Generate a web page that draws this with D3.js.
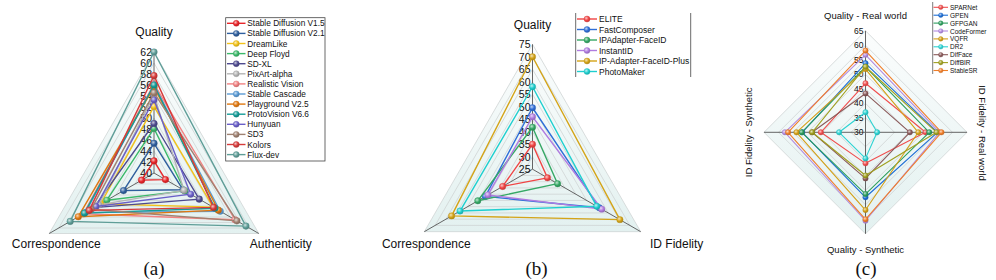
<!DOCTYPE html>
<html><head><meta charset="utf-8">
<script src="https://cdn.jsdelivr.net/npm/d3@7/dist/d3.min.js"></script>
<style>body{margin:0;background:#fff}svg{display:block}text{font-family:"Liberation Sans",Arial,sans-serif;fill:#111}</style>
</head><body><svg id="chart" width="996" height="280"></svg>
<script>
// ---------- Panel (a) ----------
const axesA = ["Quality", "Authenticity", "Correspondence"];
const modelsA = ["Stable Diffusion V1.5","Stable Diffusion V2.1","DreamLike","Deep Floyd","SD-XL","PixArt-alpha","Realistic Vision","Stable Cascade","Playground V2.5","ProtoVision V6.6","Hunyuan","SD3","Kolors","Flux-dev"];
const qualityA        = [42.2, 45.4, 52.1, 48.1, 49.0, 54.2, 56.2, 56.0, 55.6, 56.0, 53.3, 54.6, 57.7, 62.0];
const authenticityA   = [42.4, 46.1, 52.4, 46.5, 49.5, 46.3, 57.0, 53.9, 53.5, 52.8, 47.7, 57.4, 52.5, 59.3];
const correspondenceA = [42.6, 46.4, 51.2, 49.9, 52.6, 51.6, 54.8, 54.4, 55.9, 54.6, 52.2, 53.2, 53.6, 57.6];
const ticksA = [40, 42, 44, 46, 48, 50, 52, 54, 56, 58, 60, 62];
const colorsA = ["#e8262a","#2f5f9e","#f2c21a","#3cb96a","#4e4a8f","#b4b4b4","#f28282","#5b9bd5","#e07810","#169c98","#6a5fc8","#a08272","#d63b3b","#5f9e98"];

// ---------- Panel (b) ----------
const axesB = ["Quality", "ID Fidelity", "Correspondence"];
const modelsB = ["ELITE","FastComposer","IPAdapter-FaceID","InstantID","IP-Adapter-FaceID-Plus","PhotoMaker"];
const qualityB        = [35.0, 49.6, 41.8, 46.0, 70.0, 58.0];
const idFidelityB     = [31.9, 55.9, 36.6, 57.0, 65.4, 54.7];
const correspondenceB = [38.8, 46.8, 50.3, 45.6, 62.4, 58.5];
const ticksB = [25, 30, 35, 40, 45, 50, 55, 60, 65, 70, 75];
const colorsB = ["#f04444","#2f6fd8","#35a865","#b07ce0","#d4a418","#1fcfcf"];

// ---------- Panel (c) ----------
const axesC = ["Quality - Real world", "ID Fidelity - Real world", "Quality - Synthetic", "ID Fidelity - Synthetic"];
const modelsC = ["SPARNet","GPEN","GFPGAN","CodeFormer","VQFR","DR2","DifFace","DiffBIR","StableSR"];
const qualityRealC  = [46.9, 53.8, 52.6, 56.7, 51.8, 36.9, 43.4, 52.6, 58.2];
const idRealC       = [50.7, 54.8, 52.0, 55.5, 48.2, 34.0, 45.3, 54.5, 56.2];
const qualitySynthC = [40.7, 52.4, 51.3, 60.5, 56.8, 39.0, 45.9, 44.9, 60.0];
const idSynthC      = [45.4, 51.8, 52.0, 57.8, 53.8, 39.1, 48.4, 48.4, 56.7];
const ticksC = [30, 35, 40, 45, 50, 55, 60, 65];
const colorsC = ["#f04e4e","#1f6fd6","#2e9e5e","#b38be0","#d4a017","#2cd3d3","#8b5a5a","#a0a020","#f07f2a"];

const svg = d3.select("#chart");
const defs = svg.append("defs");

function markerGrad(id, color) {
  const g = defs.append("radialGradient").attr("id", id).attr("cx", 0.38).attr("cy", 0.35).attr("r", 0.7);
  g.append("stop").attr("offset", "0%").attr("stop-color", d3.interpolateRgb(color, "#fff")(0.7));
  g.append("stop").attr("offset", "55%").attr("stop-color", color);
  g.append("stop").attr("offset", "100%").attr("stop-color", d3.color(color).darker(0.7));
}

function radar(o) {
  const g = svg.append("g");
  const n = o.axes.length;
  const ang = d3.range(n).map(i => i * 2 * Math.PI / n);
  const r = d3.scaleLinear().domain([o.ticks[0], o.ticks[o.ticks.length - 1]]).range([0, o.R]);
  const pt = (a, rad) => [o.cx + rad * Math.sin(a), o.cy - rad * Math.cos(a)];
  const poly = rad => ang.map(a => pt(a, rad).join(",")).join(" ");

  const bg = defs.append("linearGradient").attr("id", "bg" + o.id).attr("x1", 0).attr("y1", 0).attr("x2", 0).attr("y2", 1);
  bg.append("stop").attr("offset", "0%").attr("stop-color", "#fbfdfd");
  bg.append("stop").attr("offset", "100%").attr("stop-color", "#e3f1f0");
  g.append("polygon").attr("points", poly(o.R)).attr("fill", "url(#bg" + o.id + ")");
  o.ticks.forEach(t => {
    g.append("polygon").attr("points", poly(r(t))).attr("fill", "none")
      .attr("stroke", "#cfd4d4").attr("stroke-width", 0.8);
  });
  ang.forEach(a => {
    const p = pt(a, o.R);
    g.append("line").attr("x1", o.cx).attr("y1", o.cy).attr("x2", p[0]).attr("y2", p[1])
      .attr("stroke", "#555").attr("stroke-width", 0.9);
  });
  o.ticks.forEach(t => {
    g.append("text").attr("x", o.cx - 2).attr("y", o.cy - r(t)).attr("text-anchor", "end")
      .attr("dominant-baseline", "central").attr("font-size", o.tickSize).attr("fill", "#222").text(t);
  });

  const line = d3.lineRadial().angle((d, i) => ang[i]).radius(d => r(d)).curve(d3.curveLinearClosed);
  o.models.forEach((m, s) => {
    const vals = o.values.map(arr => arr[s]);
    const gid = "mk" + o.id + s;
    markerGrad(gid, o.colors[s]);
    g.append("path").attr("transform", `translate(${o.cx},${o.cy})`).attr("d", line(vals))
      .attr("fill", "none").attr("stroke", o.colors[s]).attr("stroke-width", o.lw).attr("stroke-linejoin", "round");
    vals.forEach((v, i) => {
      const p = pt(ang[i], r(v));
      g.append("circle").attr("cx", p[0]).attr("cy", p[1]).attr("r", o.mr).attr("fill", `url(#${gid})`)
        .attr("stroke", d3.color(o.colors[s]).darker(0.3)).attr("stroke-width", 0.4);
    });
  });
  return { pt, ang };
}

function legend(o) {
  const g = svg.append("g");
  o.models.forEach((m, i) => {
    const y = o.y0 + i * o.dy;
    g.append("line").attr("x1", o.lx1).attr("x2", o.lx2).attr("y1", y).attr("y2", y)
      .attr("stroke", o.colors[i]).attr("stroke-width", o.lw);
    g.append("circle").attr("cx", (o.lx1 + o.lx2) / 2).attr("cy", y).attr("r", o.mr)
      .attr("fill", `url(#mk${o.id}${i})`).attr("stroke", d3.color(o.colors[i]).darker(0.3)).attr("stroke-width", 0.4);
    g.append("text").attr("x", o.tx).attr("y", y).attr("dominant-baseline", "central")
      .attr("font-size", o.fs).attr("fill", "#222").text(m);
  });
  return g;
}

function caption(x, t) {
  svg.append("text").attr("x", x).attr("y", 275).attr("text-anchor", "middle")
    .attr("font-family", "'Liberation Serif','Times New Roman',serif").style("font-family", "'Liberation Serif','Times New Roman',serif")
    .attr("font-size", 19).text(t);
}

// ----- draw (a) -----
const A = radar({ id: "a", cx: 154, cy: 173, R: 121, axes: axesA, ticks: ticksA, models: modelsA,
  values: [qualityA, authenticityA, correspondenceA], colors: colorsA, tickSize: 10.5, lw: 1.4, mr: 3.3 });
{
  const top = A.pt(A.ang[0], 121), right = A.pt(A.ang[1], 121), left = A.pt(A.ang[2], 121);
  svg.append("text").attr("x", top[0]).attr("y", top[1] - 16).attr("text-anchor", "middle").attr("font-size", 12).text(axesA[0]);
  svg.append("text").attr("x", right[0] + 22).attr("y", right[1] + 14).attr("text-anchor", "middle").attr("font-size", 12).text(axesA[1]);
  svg.append("text").attr("x", left[0] + 7).attr("y", left[1] + 14).attr("text-anchor", "middle").attr("font-size", 12).text(axesA[2]);
}
svg.append("rect").attr("x", 225.7).attr("y", 17.7).attr("width", 99.3).attr("height", 143.3)
  .attr("fill", "#fff").attr("stroke", "#444").attr("stroke-width", 0.8);
legend({ id: "a", models: modelsA, colors: colorsA, y0: 23.3, dy: 10.1, lx1: 227, lx2: 245.5, tx: 247.3, fs: 8.3, lw: 1.4, mr: 3 });
caption(154, "(a)");

// ----- draw (b) -----
const B = radar({ id: "b", cx: 532.5, cy: 169.2, R: 124.9, axes: axesB, ticks: ticksB, models: modelsB,
  values: [qualityB, idFidelityB, correspondenceB], colors: colorsB, tickSize: 10.5, lw: 1.4, mr: 3.2 });
{
  const top = B.pt(B.ang[0], 124.9), right = B.pt(B.ang[1], 124.9), left = B.pt(B.ang[2], 124.9);
  svg.append("text").attr("x", top[0]).attr("y", top[1] - 15).attr("text-anchor", "middle").attr("font-size", 12).text(axesB[0]);
  svg.append("text").attr("x", right[0] + 36).attr("y", right[1] + 16).attr("text-anchor", "middle").attr("font-size", 12).text(axesB[1]);
  svg.append("text").attr("x", left[0] + 2).attr("y", left[1] + 16).attr("text-anchor", "middle").attr("font-size", 12).text(axesB[2]);
}
svg.append("line").attr("x1", 575.7).attr("x2", 575.7).attr("y1", 13).attr("y2", 77).attr("stroke", "#444").attr("stroke-width", 0.8);
svg.append("line").attr("x1", 690.7).attr("x2", 690.7).attr("y1", 13).attr("y2", 77).attr("stroke", "#444").attr("stroke-width", 0.8);
legend({ id: "b", models: modelsB, colors: colorsB, y0: 19, dy: 10.5, lx1: 577, lx2: 597, tx: 599, fs: 8.5, lw: 1.4, mr: 3 });
caption(536.5, "(b)");

// ----- draw (c) -----
const C = radar({ id: "c", cx: 865.5, cy: 132.3, R: 101.5, axes: axesC, ticks: ticksC, models: modelsC,
  values: [qualityRealC, idRealC, qualitySynthC, idSynthC], colors: colorsC, tickSize: 8.5, lw: 1.1, mr: 2.7 });
{
  svg.append("text").attr("x", 865.5).attr("y", 18.5).attr("text-anchor", "middle").attr("font-size", 9.5).text(axesC[0]);
  svg.append("text").attr("transform", "translate(978.5,133) rotate(90)").attr("text-anchor", "middle").attr("font-size", 9.5).text(axesC[1]);
  svg.append("text").attr("x", 865.5).attr("y", 253).attr("text-anchor", "middle").attr("font-size", 9.5).text(axesC[2]);
  svg.append("text").attr("transform", "translate(751.5,132.3) rotate(-90)").attr("text-anchor", "middle").attr("font-size", 9.5).text(axesC[3]);
}
svg.append("line").attr("x1", 932.7).attr("x2", 932.7).attr("y1", 2).attr("y2", 74).attr("stroke", "#444").attr("stroke-width", 0.7);
legend({ id: "c", models: modelsC, colors: colorsC, y0: 7.3, dy: 7.9, lx1: 933.5, lx2: 948, tx: 950, fs: 6.5, lw: 1.1, mr: 2.3 });
caption(866, "(c)");
</script></body></html>
